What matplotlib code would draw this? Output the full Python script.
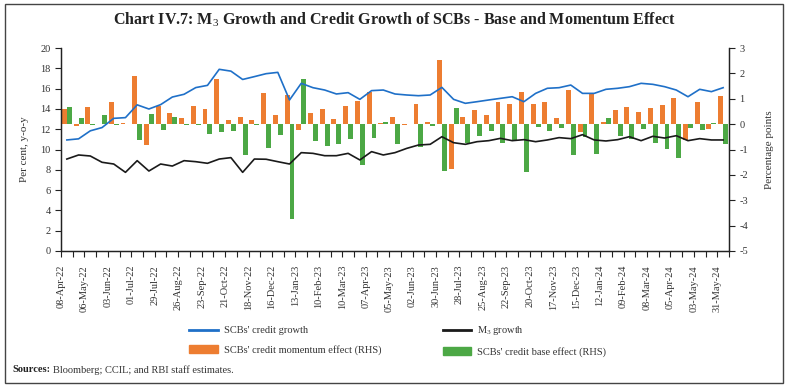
import numpy as np
import pandas as pd
import matplotlib
matplotlib.use("Agg")
import matplotlib.pyplot as plt
from matplotlib.patches import Rectangle, Patch
from matplotlib.lines import Line2D

plt.rcParams.update({
    "font.family": ["Liberation Serif", "DejaVu Serif"],
    "mathtext.fontset": "custom",
    "mathtext.rm": "Liberation Serif",
    "mathtext.it": "Liberation Serif:italic",
    "mathtext.bf": "Liberation Serif:bold",
    "axes.unicode_minus": False,
})

# =====================================================================
# DATA (fortnightly reporting Fridays)
# =====================================================================

dates = pd.date_range("2022-04-08", periods=57, freq="14D")
date_labels = [d.strftime("%d-%b-%y") for d in dates]

credit_growth = [10.94, 11.05, 11.84, 12.16, 13.07, 13.14, 14.40, 13.99, 14.42, 15.17,
                 15.44, 16.10, 16.32, 17.90, 17.72, 16.90, 17.18, 17.47, 17.60, 14.88,
                 16.52, 16.09, 15.86, 15.47, 15.60, 14.94, 15.80, 15.86, 15.47, 15.37,
                 15.30, 15.37, 16.12, 14.94, 14.55, 14.71, 14.88, 15.04, 15.20, 14.71,
                 15.53, 16.03, 16.09, 16.35, 15.53, 15.53, 15.93, 16.03, 16.19, 16.52,
                 16.42, 16.19, 15.86, 15.20, 15.93, 15.70, 16.09]

m3_growth = [9.06, 9.46, 9.36, 8.74, 8.57, 7.75, 8.90, 7.88, 8.57, 8.37,
             8.90, 8.80, 8.64, 9.06, 9.20, 7.75, 9.06, 9.04, 8.80, 8.57,
             9.69, 9.62, 9.39, 9.39, 9.62, 8.97, 9.79, 9.46, 9.69, 10.11,
             10.44, 10.51, 11.26, 10.67, 10.51, 10.77, 10.87, 11.10, 10.87, 10.97,
             10.77, 10.94, 11.17, 11.07, 11.46, 10.94, 10.84, 10.97, 11.26, 10.87,
             11.30, 11.13, 11.36, 10.87, 11.07, 10.94, 10.94]

momentum_effect = [0.59, -0.08, 0.68, 0.02, 0.86, 0.04, 1.89, -0.83, 0.72, 0.45,
                   0.24, 0.72, 0.61, 1.79, 0.16, 0.30, 0.16, 1.21, 0.36, 1.13,
                   -0.22, 0.45, 0.59, 0.22, 0.71, 0.92, 1.25, 0.05, 0.28, -0.04,
                   0.80, 0.08, 2.53, -1.76, 0.28, 0.54, 0.37, 0.87, 0.78, 1.28,
                   0.80, 0.86, 0.24, 1.36, -0.30, 1.21, 0.07, 0.54, 0.68, 0.49,
                   0.64, 0.74, 1.03, -0.63, 0.88, -0.20, 1.12]

base_effect = [0.68, 0.26, -0.02, 0.37, -0.02, 0.02, -0.63, 0.39, -0.25, 0.29,
               -0.03, -0.03, -0.39, -0.31, -0.29, -1.20, -0.02, -0.96, -0.41, -3.72,
               1.78, -0.66, -0.86, -0.79, -0.59, -1.63, -0.54, 0.09, -0.79, 0.02,
               -0.89, -0.06, -1.84, 0.63, -0.75, -0.47, -0.26, -0.74, -0.64, -1.89,
               -0.12, -0.28, -0.17, -1.22, -0.50, -1.16, 0.26, -0.47, -0.59, -0.21,
               -0.76, -0.99, -1.33, -0.17, -0.24, 0.03, -0.80]

# =====================================================================
# STYLE
# =====================================================================

BLUE = "#1F70C8"
BLACK = "#1a1a1a"
ORANGE = "#ED7D31"
GREEN = "#4CA845"
TXT = "#333333"

# =====================================================================
# PLOT
# =====================================================================

fig = plt.figure(figsize=(7.88, 3.88), dpi=100)
ax = fig.add_axes([61 / 788, 1 - 251 / 388, 668 / 788, 203 / 388])
ax2 = ax.twinx()
ax.set_zorder(ax2.get_zorder() + 1)
ax.patch.set_visible(False)

x = np.arange(len(dates))
w = 0.42
ax2.bar(x - w / 2, momentum_effect, width=w, color=ORANGE, zorder=2)
ax2.bar(x + w / 2, base_effect, width=w, color=GREEN, zorder=2)

ax.plot(x, credit_growth, color=BLUE, linewidth=1.2, zorder=3)
ax.plot(x, m3_growth, color=BLACK, linewidth=1.2, zorder=3)

ax.set_xlim(-0.5, len(dates) - 0.5)
ax.set_ylim(0, 20)
ax.set_yticks(np.arange(0, 21, 2))
ax2.set_ylim(-5, 3)
ax2.set_yticks(np.arange(-5, 4, 1))

# ticks at category boundaries, labels on every other one
bounds = np.arange(len(dates) + 1) - 0.5
ax.set_xticks(bounds)
ax.set_xticklabels([date_labels[i] if (i % 2 == 0 and i < len(dates)) else ""
                    for i in range(len(bounds))], rotation=90)

for a in (ax, ax2):
    a.spines["top"].set_visible(False)
    for s in a.spines.values():
        s.set_color("#222222")
        s.set_linewidth(0.9)
    a.tick_params(direction="out", length=4, width=0.8, colors="#222222",
                  labelsize=7.5, labelcolor=TXT)
ax.tick_params(axis="x", pad=6, labelsize=7.5)

ax.set_ylabel("Per cent, y-o-y", fontsize=8, color=TXT, labelpad=8)
ax2.set_ylabel("Percentage points", fontsize=8, color=TXT, labelpad=12)

fig.text(0.5, 1 - 20 / 388,
         r"Chart IV.7: M$_3$ Growth and Credit Growth of SCBs - Base and Momentum Effect",
         ha="center", va="center", fontsize=11.5, fontweight="bold", color="#222222")

handles = [
    Line2D([], [], color=BLUE, linewidth=2),
    Patch(color=ORANGE),
    Line2D([], [], color=BLACK, linewidth=2),
    Patch(color=GREEN),
]
labels = ["SCBs' credit growth", "SCBs' credit momentum effect (RHS)",
          r"M$_3$ growth", "SCBs' credit base effect (RHS)"]
fig.legend(handles, labels, ncol=2, loc="upper left",
           bbox_to_anchor=(180 / 788, 1 - 315 / 388), frameon=False,
           fontsize=7.5, handlelength=2.7, handleheight=0.75, handletextpad=0.6,
           columnspacing=5.9, labelspacing=0.9, labelcolor=TXT)

src = fig.text(12 / 788, 1 - 370 / 388, "Sources:", fontsize=7.5, fontweight="bold",
               color="#222222", va="center", ha="left")
fig.canvas.draw()
bb = src.get_window_extent()
fig.text((bb.x1 + 3) / 788, 1 - 370 / 388, "Bloomberg; CCIL; and RBI staff estimates.",
         fontsize=7.5, color=TXT, va="center", ha="left")

fig.patches.append(Rectangle((5 / 788, 5 / 388), 778 / 788, 379 / 388,
                             transform=fig.transFigure, fill=False,
                             edgecolor="#444444", linewidth=1.0))

fig.savefig("out.png", dpi=100)
